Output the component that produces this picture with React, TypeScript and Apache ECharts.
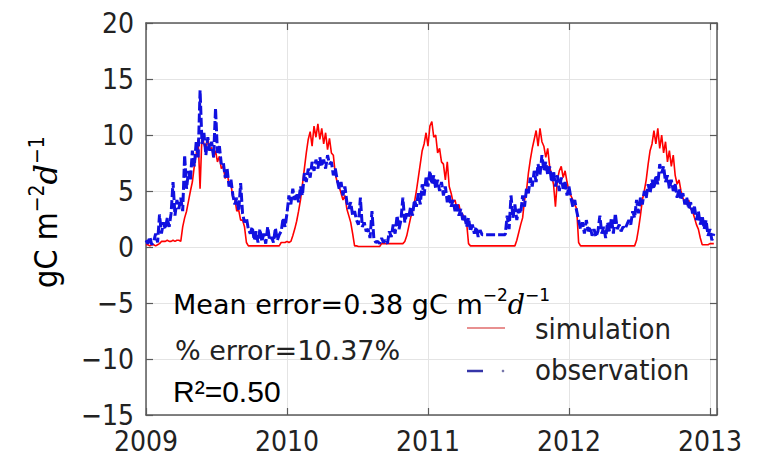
import { useEffect, useRef } from "react";
import * as echarts from "echarts";

// GPP series, sampled every 5 days from 1 Jan 2009 (gC m^-2 d^-1)
const START_YEAR = 2009;
const STEP_DAYS = 5;

const X_MIN = 2009;
const X_MAX = 2013.05;
const X_STEP = 1;
const Y_MIN = -15;
const Y_MAX = 20;
const Y_STEP = 5;

const simulation = [
  0.2, 0.2, 0.1, 0.2, 0.2, 0.1, 0.2, 0.3, 0.5, 0.5,
  0.5, 0.6, 0.5, 0.5, 0.6, 0.5, 0.6, 0.6, 0.5, 1.8,
  2.6, 3.2, 4.1, 5.0, 5.8, 7.2, 8.3, 9.6, 5.2, 10.1,
  9.2, 8.6, 9.8, 8.6, 8.9, 8.0, 8.6, 7.6, 8.1, 7.0,
  7.2, 6.1, 6.8, 5.5, 5.6, 4.4, 4.3, 3.2, 3.3, 2.4,
  2.4, 1.8, 0.4, 0.1, 0.1, 0.1, 0.1, 0.1, 0.1, 0.1,
  0.1, 0.1, 0.1, 0.1, 0.1, 0.1, 0.1, 0.1, 0.1, 0.1,
  0.4, 0.4, 0.4, 0.5, 0.4, 0.5, 1.0, 1.6, 2.3, 3.2,
  4.2, 5.6, 7.0, 8.4, 9.6, 10.3, 9.0, 10.8, 9.8, 11.0,
  9.6, 10.6, 9.2, 10.2, 8.7, 9.7, 8.4, 8.2, 6.5, 5.8,
  5.4, 4.8, 4.2, 4.6, 3.4, 2.8, 2.2, 1.2, 0.1, 0.1,
  0.05, 0.05, 0.05, 0.05, 0.05, 0.05, 0.05, 0.05, 0.05, 0.05,
  0.05, 0.05, 0.3, 0.3, 0.3, 0.3, 0.3, 0.3, 0.3, 0.3,
  0.3, 0.3, 0.3, 0.3, 0.5, 1.0, 1.8, 2.6, 3.2, 4.0,
  5.0, 6.2, 7.4, 8.6, 9.2, 10.2, 9.0, 10.8, 11.2, 9.8,
  10.0, 8.4, 8.8, 7.6, 7.4, 6.0, 7.6, 5.4, 4.8, 4.0,
  4.2, 3.4, 3.8, 3.0, 2.9, 2.4, 2.2, 0.3, 0.1, 0.1,
  0.1, 0.1, 0.1, 0.1, 0.1, 0.1, 0.1, 0.1, 0.1, 0.1,
  0.1, 0.1, 0.1, 0.1, 0.1, 0.1, 0.1, 0.1, 0.1, 0.1,
  0.1, 0.1, 0.6, 1.3, 2.0, 2.6, 4.2, 5.0, 6.6, 7.8,
  8.8, 9.6, 10.4, 9.0, 10.6, 9.4, 9.0, 8.0, 8.8, 7.2,
  6.4, 5.6, 3.6, 6.0, 6.8, 7.2, 6.2, 6.8, 5.8, 5.0,
  4.6, 4.2, 3.8, 3.4, 0.4, 0.1, 0.1, 0.1, 0.1, 0.1,
  0.1, 0.1, 0.1, 0.1, 0.1, 0.1, 0.1, 0.1, 0.1, 0.1,
  0.1, 0.1, 0.1, 0.1, 0.1, 0.1, 0.1, 0.1, 0.1, 0.1,
  0.1, 0.1, 0.1, 0.1, 0.6, 1.6, 2.8, 4.2, 5.0, 6.0,
  7.4, 8.6, 9.2, 10.4, 9.2, 10.6, 8.8, 10.0, 8.4, 9.4,
  7.6, 8.6, 7.2, 8.2, 6.4, 5.6, 6.0, 5.0, 4.4, 4.0,
  3.8, 4.2, 3.4, 3.2, 2.6, 2.0, 1.6, 0.8, 0.2, 0.2,
  0.2, 0.2, 0.3, 0.3, 0.3,
];

const observation = [
  0.6, 0.3, 0.9, 0.2, 0.5, 1.2, 0.4, 2.9, 1.2, 2.2,
  1.6, 2.6, 1.8, 3.0, 5.8, 2.8, 4.2, 3.4, 4.4, 3.2,
  8.2, 5.2, 6.8, 6.0, 8.6, 7.2, 9.4, 8.0, 14.0, 9.2,
  10.2, 8.2, 9.8, 8.6, 9.4, 8.0, 12.4, 8.4, 9.0, 7.4,
  7.6, 6.2, 7.0, 5.4, 6.0, 4.6, 3.8, 4.4, 3.2, 5.7,
  3.0, 2.2, 2.6, 1.6, 1.2, 1.8, 0.6, 1.4, 0.4, 1.6,
  0.5, 1.2, 0.3, 1.8, 0.6, 0.9, 0.4, 1.7, 0.6, 1.1,
  1.4, 2.6, 1.8, 3.0, 4.6, 3.8, 5.2, 4.2, 4.8, 4.0,
  5.4, 4.6, 6.6, 5.8, 7.0, 6.2, 7.6, 6.8, 7.8, 7.0,
  8.0, 7.2, 7.8, 7.0, 8.2, 7.4, 7.6, 6.4, 7.0, 6.0,
  5.2, 5.8, 4.6, 5.4, 4.0, 3.4, 4.0, 2.8, 3.2, 2.4,
  2.0, 4.4, 1.8, 2.2, 1.4, 1.6, 0.8, 3.2, 0.7, 0.4,
  0.5, 0.3, 0.8, 0.4, 0.6, 0.3, 1.4, 0.9, 2.0, 1.2,
  2.8, 1.6, 2.4, 4.4, 2.2, 3.0, 2.6, 3.6, 2.8, 4.2,
  3.6, 4.8, 3.8, 5.6, 4.6, 6.2, 5.4, 6.8, 5.6, 6.4,
  5.2, 6.0, 5.0, 5.8, 4.6, 5.4, 4.0, 4.6, 3.6, 4.2,
  3.2, 3.8, 2.8, 3.4, 2.4, 2.8, 1.8, 2.6, 1.4, 2.0,
  1.2, 1.8, 0.9, 1.5, 1.1, 1.1, 1.1, 1.1, 1.1, 1.1,
  1.1, 1.1, 1.1, 1.1, 1.1, 1.1, 1.1, 2.8, 1.6, 4.6,
  2.6, 3.8, 2.4, 3.4, 3.0, 4.6, 3.6, 5.2, 4.8, 6.2,
  5.4, 6.8, 5.8, 7.4, 6.4, 8.2, 6.8, 7.6, 6.4, 7.2,
  5.8, 6.8, 5.4, 6.4, 5.0, 6.2, 5.2, 5.8, 4.6, 5.4,
  4.4, 3.6, 4.2, 3.2, 2.4, 1.6, 2.2, 1.2, 2.4, 1.4,
  1.8, 1.0, 1.6, 0.9, 1.4, 2.8, 1.2, 1.8, 0.8, 2.2,
  1.4, 2.6, 1.2, 3.0, 1.6, 2.0, 1.4, 1.8, 1.6, 2.0,
  2.4, 2.0, 3.2, 2.6, 4.2, 3.0, 4.4, 3.8, 5.0, 4.4,
  5.6, 4.8, 6.0, 5.2, 6.4, 5.6, 7.4, 6.6, 7.2, 5.8,
  6.4, 5.2, 6.0, 5.0, 5.6, 4.4, 5.2, 4.2, 4.8, 3.8,
  4.4, 3.4, 4.0, 3.0, 3.6, 2.4, 3.2, 2.0, 2.8, 1.6,
  2.4, 1.0, 1.6, 0.6, 1.2,
];

const seriesNames = ["simulation", "observation"];
const statLines = ["Mean error=0.38 gC m", "% error=10.37%", "R\u00b2=0.50"];

const toPairs = (vals: number[]) =>
  vals.map((v, i) => [START_YEAR + (i * STEP_DAYS) / 365, v]);

const TICK_FONT = "'DejaVu Sans Condensed', 'DejaVu Sans', sans-serif";
const TEXT_FONT = "'DejaVu Sans', sans-serif";
const MATH_FONT = "'DejaVu Serif', serif";
const AXIS_COLOR = "#5a5a5a";
const TEXT_COLOR = "#222222";

export default function App() {
  const ref = useRef<HTMLDivElement>(null);

  useEffect(() => {
    if (!ref.current) return;
    const chart = echarts.init(ref.current, null, { renderer: "svg" });

    const frameAxis = {
      axisLine: { show: true, onZero: false, lineStyle: { color: AXIS_COLOR, width: 1.5 } },
      axisTick: { show: true, inside: true, length: 7, lineStyle: { color: AXIS_COLOR, width: 1.2 } },
    };

    const unitRich = (size: number, supSize: number, family: string) => ({
      t: { fontSize: size, fontFamily: family, color: TEXT_COLOR, lineHeight: size + 8 },
      s: { fontSize: supSize, fontFamily: family, color: TEXT_COLOR, verticalAlign: "top", lineHeight: supSize + 2 },
      i: { fontSize: size, fontFamily: MATH_FONT, fontStyle: "italic", color: TEXT_COLOR, lineHeight: size + 8 },
    });

    chart.setOption({
      animation: false,
      backgroundColor: "#ffffff",
      grid: { left: 146, right: 52, top: 23, bottom: 44 },
      xAxis: [
        {
          type: "value",
          position: "bottom",
          min: X_MIN,
          max: X_MAX,
          interval: X_STEP,
          ...frameAxis,
          axisLabel: {
            fontSize: 28,
            fontFamily: TICK_FONT,
            color: TEXT_COLOR,
            margin: 12,
            formatter: (v: number) => (Number.isInteger(v) ? String(v) : ""),
          },
          splitLine: { show: true, lineStyle: { color: "#e4e4e4", width: 1 } },
        },
        {
          type: "value",
          position: "top",
          min: X_MIN,
          max: X_MAX,
          interval: X_STEP,
          ...frameAxis,
          axisLabel: { show: false },
          splitLine: { show: false },
        },
      ],
      yAxis: [
        {
          type: "value",
          position: "left",
          min: Y_MIN,
          max: Y_MAX,
          interval: Y_STEP,
          ...frameAxis,
          axisLabel: {
            fontSize: 28,
            fontFamily: TICK_FONT,
            color: TEXT_COLOR,
            margin: 12,
            formatter: (v: number) => (v < 0 ? "\u2212" + Math.abs(v) : String(v)),
          },
          splitLine: { show: true, lineStyle: { color: "#e4e4e4", width: 1 } },
        },
        {
          type: "value",
          position: "right",
          min: Y_MIN,
          max: Y_MAX,
          interval: Y_STEP,
          ...frameAxis,
          axisLabel: { show: false },
          splitLine: { show: false },
        },
      ],
      series: [
        {
          name: seriesNames[0],
          type: "line",
          xAxisIndex: 0,
          yAxisIndex: 0,
          data: toPairs(simulation),
          showSymbol: false,
          lineStyle: { color: "#ff0000", width: 1.6 },
          z: 2,
        },
        {
          name: seriesNames[1],
          type: "line",
          xAxisIndex: 0,
          yAxisIndex: 0,
          data: toPairs(observation),
          showSymbol: false,
          lineStyle: { color: "#1010e0", width: 3, type: [9, 3] },
          z: 3,
        },
      ],
      graphic: [
        // y-axis title
        {
          type: "text",
          x: 46,
          y: 212,
          rotation: Math.PI / 2,
          style: {
            text: "{t|gC m}{s|\u22122}{i|d}{s|\u22121}",
            rich: unitRich(32, 21, TICK_FONT),
            align: "center",
            verticalAlign: "middle",
          },
          z: 10,
        },
        // statistics block
        {
          type: "text",
          x: 173,
          y: 304,
          style: {
            text: `{t|${statLines[0]}}{s|\u22122}{i|d}{s|\u22121}`,
            rich: unitRich(27, 17, TEXT_FONT),
            align: "left",
            verticalAlign: "middle",
          },
          z: 10,
        },
        {
          type: "text",
          x: 175,
          y: 350,
          style: {
            text: statLines[1],
            fontSize: 27,
            fontFamily: TEXT_FONT,
            fill: TEXT_COLOR,
            align: "left",
            verticalAlign: "middle",
          },
          z: 10,
        },
        {
          type: "text",
          x: 173,
          y: 391,
          style: {
            text: statLines[2],
            fontSize: 30,
            fontFamily: "'Liberation Sans', Arial, sans-serif",
            fill: "#000000",
            align: "left",
            verticalAlign: "middle",
          },
          z: 10,
        },
        // legend
        {
          type: "line",
          shape: { x1: 467, y1: 328, x2: 505, y2: 328 },
          style: { stroke: "#e89090", lineWidth: 2 },
          z: 10,
        },
        {
          type: "line",
          shape: { x1: 467, y1: 371, x2: 483, y2: 371 },
          style: { stroke: "#3535a8", lineWidth: 2.5 },
          z: 10,
        },
        {
          type: "circle",
          shape: { cx: 503, cy: 371, r: 1.3 },
          style: { fill: "#7777aa" },
          z: 10,
        },
        {
          type: "text",
          x: 535,
          y: 329,
          style: {
            text: seriesNames[0],
            fontSize: 29,
            fontFamily: TICK_FONT,
            fill: TEXT_COLOR,
            align: "left",
            verticalAlign: "middle",
          },
          z: 10,
        },
        {
          type: "text",
          x: 535,
          y: 370,
          style: {
            text: seriesNames[1],
            fontSize: 29,
            fontFamily: TICK_FONT,
            fill: TEXT_COLOR,
            align: "left",
            verticalAlign: "middle",
          },
          z: 10,
        },
      ],
    });

    return () => chart.dispose();
  }, []);

  return (
    <div
      ref={ref}
      style={{ position: "absolute", left: 0, top: 0, width: 769, height: 459 }}
    />
  );
}
